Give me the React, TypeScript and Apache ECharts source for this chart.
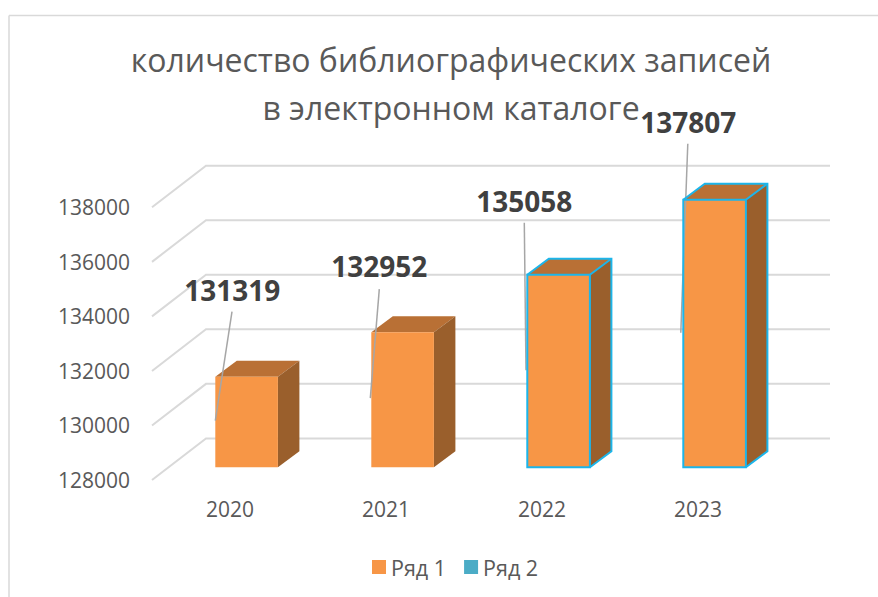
import React, { useEffect, useRef } from "react";
import * as echarts from "echarts";

const titleLines = ["количество библиографических записей", "в электронном каталоге"];
const categories = ["2020", "2021", "2022", "2023"];
const gridTicks = [128000, 130000, 132000, 134000, 136000, 138000];
const series1Name = "Ряд 1";
const series2Name = "Ряд 2";
const series1Values = [131319, 132952, 135058, 137807];
const series2Values = [null, null, 135058, 137807];

const FONT = "'Open Sans', sans-serif";
const TEXT = "#595959";
const GRID = "#D9D9D9";
const FRONT = "#F79646";
const TOP = "#B97035";
const SIDE = "#9A5F2C";
const OUTLINE = "#1CB5EA";
const LEGEND2 = "#4BACC6";
const LEADER = "#A6A6A6";

// Oblique projection of the drawing (pixels)
const WALL_DX = 54;
const WALL_DY = -41.6;
const BAR_SHIFT_X = 16.6;
const BAR_SHIFT_Y = -12.8;
const BAR_W = 62.6;
const BAR_DX = 21.5;
const BAR_DY = -16;

// Callouts, relative to the bar's top-left front corner
const labelOffsets = [[17, -87], [8, -66], [-3, -74], [5, -78]];
const leaderTops = [[16.7, -65], [8, -43], [-3, -52], [4.5, -56]];
const leaderFeet = [[0, 44], [-1, 66], [-1.3, 95.5], [-2.5, 133]];

function barBox(api: any) {
  const i = api.value(0);
  const v = api.value(1);
  const t = api.coord([i, v]);
  const b = api.coord([i, 128000]);
  const left = t[0] + BAR_SHIFT_X - BAR_W / 2;
  return { i, v, left, right: left + BAR_W, top: t[1] + BAR_SHIFT_Y, bottom: b[1] + BAR_SHIFT_Y };
}

function renderGrid(params: any, api: any) {
  const cs = params.coordSys;
  const y = api.coord([0, api.value(0)])[1];
  return {
    type: "polyline",
    silent: true,
    shape: {
      points: [
        [cs.x, y],
        [cs.x + WALL_DX, y + WALL_DY],
        [cs.x + cs.width + WALL_DX, y + WALL_DY],
      ],
    },
    style: { fill: "none", stroke: GRID, lineWidth: 2 },
  };
}

function renderBar(_: any, api: any) {
  const { i, v, left, right, top, bottom } = barBox(api);
  const off = labelOffsets[i];
  const lt = leaderTops[i];
  const lf = leaderFeet[i];
  return {
    type: "group",
    children: [
      {
        type: "polygon",
        shape: { points: [[left, top], [right, top], [right + BAR_DX, top + BAR_DY], [left + BAR_DX, top + BAR_DY]] },
        style: { fill: TOP },
      },
      {
        type: "polygon",
        shape: { points: [[right, top], [right + BAR_DX, top + BAR_DY], [right + BAR_DX, bottom + BAR_DY], [right, bottom]] },
        style: { fill: SIDE },
      },
      { type: "rect", shape: { x: left, y: top, width: BAR_W, height: bottom - top }, style: { fill: FRONT } },
      {
        type: "line",
        shape: { x1: left + lt[0], y1: top + lt[1], x2: left + lf[0], y2: top + lf[1] },
        style: { stroke: LEADER, lineWidth: 1.5 },
      },
      {
        type: "text",
        x: left + off[0],
        y: top + off[1],
        style: {
          text: String(v),
          fill: "#404040",
          font: `bold 28px ${FONT}`,
          align: "center",
          verticalAlign: "middle",
        },
      },
    ],
  };
}

function renderOutline(_: any, api: any) {
  if (api.value(1) == null || isNaN(api.value(1))) return null;
  const { left, right, top, bottom } = barBox(api);
  const stroke = { fill: "none", stroke: OUTLINE, lineWidth: 2 };
  return {
    type: "group",
    children: [
      { type: "rect", shape: { x: left, y: top, width: BAR_W, height: bottom - top }, style: stroke },
      {
        type: "polyline",
        shape: {
          points: [
            [left, top],
            [left + BAR_DX, top + BAR_DY],
            [right + BAR_DX, top + BAR_DY],
            [right + BAR_DX, bottom + BAR_DY],
            [right, bottom],
          ],
        },
        style: stroke,
      },
      {
        type: "line",
        shape: { x1: right, y1: top, x2: right + BAR_DX, y2: top + BAR_DY },
        style: stroke,
      },
    ],
  };
}

export default function App() {
  const ref = useRef<HTMLDivElement>(null);
  useEffect(() => {
    document.body.style.margin = "0";
    const chart = echarts.init(ref.current!, undefined, { renderer: "svg" });
    chart.setOption({
      animation: false,
      backgroundColor: "#FFFFFF",
      textStyle: { fontFamily: FONT },
      title: {
        text: titleLines.join("\n"),
        left: 446,
        top: 30,
        textAlign: "center",
        textStyle: { fontFamily: FONT, fontSize: 32, fontWeight: "normal", color: TEXT, lineHeight: 48 },
      },
      grid: { left: 152, top: 207.3, width: 624, height: 272.7 },
      xAxis: {
        type: "category",
        data: categories,
        axisLine: { show: false },
        axisTick: { show: false },
        axisLabel: { color: TEXT, fontSize: 21, fontFamily: FONT, margin: 18 },
      },
      yAxis: {
        type: "value",
        min: 128000,
        max: 138000,
        interval: 2000,
        axisLine: { show: false },
        axisTick: { show: false },
        splitLine: { show: false },
        axisLabel: {
          color: TEXT,
          fontSize: 21,
          fontFamily: FONT,
          margin: 22,
          padding: [4, 0, 0, 0],
          formatter: (v: number) => String(v),
        },
      },
      legend: {
        left: 367,
        top: 551,
        itemWidth: 14,
        itemHeight: 14,
        itemGap: 18,
        selectedMode: false,
        textStyle: { color: TEXT, fontSize: 21.5, fontFamily: FONT },
        data: [
          { name: series1Name, icon: "rect", itemStyle: { color: FRONT } },
          { name: series2Name, icon: "rect", itemStyle: { color: LEGEND2 } },
        ],
      },
      graphic: [
        { type: "line", shape: { x1: 9, y1: 15.5, x2: 878, y2: 15.5 }, style: { stroke: GRID, lineWidth: 1.5 } },
        { type: "line", shape: { x1: 9, y1: 15.5, x2: 9, y2: 597 }, style: { stroke: GRID, lineWidth: 1.5 } },
      ],
      series: [
        {
          type: "custom",
          name: "grid",
          silent: true,
          z: 1,
          renderItem: renderGrid,
          data: gridTicks.map((t) => [t]),
          encode: { y: 0 },
        },
        {
          type: "custom",
          name: series1Name,
          z: 2,
          itemStyle: { color: FRONT },
          renderItem: renderBar,
          data: series1Values.map((v, i) => [i, v]),
          encode: { x: 0, y: 1 },
        },
        {
          type: "custom",
          name: series2Name,
          z: 3,
          itemStyle: { color: LEGEND2 },
          renderItem: renderOutline,
          data: series2Values.map((v, i) => [i, v]),
          encode: { x: 0, y: 1 },
        },
      ],
    });
    return () => chart.dispose();
  }, []);
  return <div ref={ref} style={{ width: 878, height: 597 }} />;
}
